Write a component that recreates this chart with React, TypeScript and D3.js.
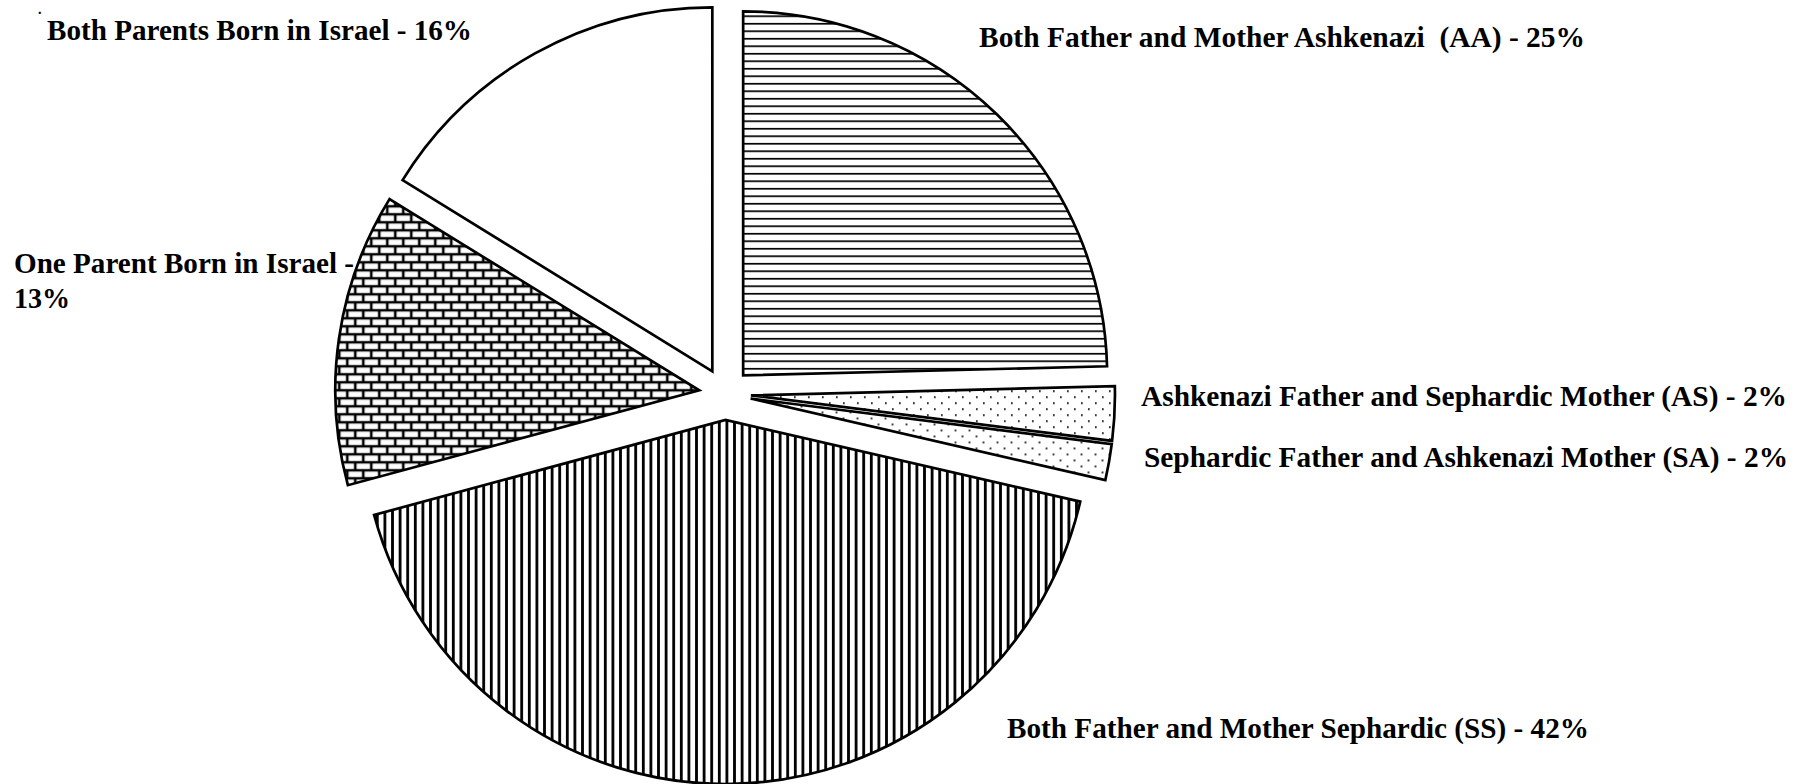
import * as d3 from "d3";

// slice order goes clockwise from 12 o'clock
const categories = [
  "Both Father and Mother Ashkenazi  (AA)",
  "Ashkenazi Father and Sephardic Mother (AS)",
  "Sephardic Father and Ashkenazi Mother (SA)",
  "Both Father and Mother Sephardic (SS)",
  "One Parent Born in Israel",
  "Both Parents Born in Israel",
];
// shares
const shares = [24.6, 2.4, 1.6, 42.2, 13.0, 16.2];
// percentages as printed in the labels
const labelPct = [25, 2, 2, 42, 13, 16];
const fills = ["url(#hlines)", "url(#dots)", "url(#dots)", "url(#vlines)", "url(#bricks)", "#fff"];

const W = 1802;
const H = 784;
const cx = 725;
const cy = 394;
const R = 364;
const explode = 26;

// label anchors (x, baseline, text width) per slice; w2 is for the wrapped second line
const labelPos = [
  { x: 979, y: 47, w: 606 },
  { x: 1141, y: 406, w: 646 },
  { x: 1144, y: 467, w: 644 },
  { x: 1007, y: 738, w: 582 },
  { x: 14, y: 273, w: 340, w2: 56 },
  { x: 47, y: 40, w: 425 },
];

export default function App() {
  const data = categories.map((c, i) => ({ name: c, value: shares[i], pct: labelPct[i] }));
  const pie = d3
    .pie<any>()
    .sort(null)
    .value((d) => d.value)
    .startAngle(0)
    .endAngle(2 * Math.PI);
  const arc = d3.arc<any>().innerRadius(0).outerRadius(R);
  const arcs = pie(data);

  return (
    <svg
      width={W}
      height={H}
      style={{ position: "absolute", left: 0, top: 0, display: "block", background: "#fff" }}
    >
      <defs>
        <pattern id="hlines" patternUnits="userSpaceOnUse" width={8} height={7.5}>
          <rect width={8} height={7.5} fill="#fff" />
          <rect y={0} width={8} height={1.7} fill="#000" />
        </pattern>
        <pattern id="vlines" patternUnits="userSpaceOnUse" width={7.6} height={8}>
          <rect width={7.6} height={8} fill="#fff" />
          <rect x={0} width={2.8} height={8} fill="#000" />
        </pattern>
        <pattern id="bricks" patternUnits="userSpaceOnUse" width={16} height={16}>
          <rect width={16} height={16} fill="#000" />
          <rect x={1.3} y={1.3} width={13.4} height={5.5} fill="#fff" />
          <rect x={9.3} y={9.3} width={13.4} height={5.5} fill="#fff" />
          <rect x={-6.7} y={9.3} width={13.4} height={5.5} fill="#fff" />
        </pattern>
        <pattern id="dots" patternUnits="userSpaceOnUse" width={14} height={12}>
          <rect width={14} height={12} fill="#fff" />
          <rect x={1} y={1} width={1.7} height={1.7} fill="#000" />
          <rect x={8} y={7} width={1.7} height={1.7} fill="#000" />
        </pattern>
      </defs>
      <rect width={W} height={H} fill="#fff" />
      <g transform={`translate(${cx},${cy})`}>
        {arcs.map((a, i) => {
          const mid = (a.startAngle + a.endAngle) / 2;
          const dx = explode * Math.sin(mid);
          const dy = -explode * Math.cos(mid);
          return (
            <path
              key={i}
              d={arc(a) as string}
              transform={`translate(${dx},${dy})`}
              fill={fills[i]}
              stroke="#000"
              strokeWidth={2.7}
              strokeLinejoin="miter"
            />
          );
        })}
      </g>
      <g
        fontFamily="'Liberation Serif', 'Times New Roman', serif"
        fontWeight="bold"
        fontSize={30}
        fill="#000"
      >
        <text x={38} y={14} fontSize={14}>.</text>
        {data.map((d, i) => {
          const p = labelPos[i];
          if (p.w2) {
            return (
              <g key={i}>
                <text x={p.x} y={p.y} textLength={p.w} lengthAdjust="spacingAndGlyphs">
                  {`${d.name} -`}
                </text>
                <text x={p.x} y={p.y + 35} textLength={p.w2} lengthAdjust="spacingAndGlyphs">
                  {`${d.pct}%`}
                </text>
              </g>
            );
          }
          return (
            <text
              key={i}
              x={p.x}
              y={p.y}
              xmlSpace="preserve"
              style={{ whiteSpace: "pre" }}
              textLength={p.w}
              lengthAdjust="spacingAndGlyphs"
            >
              {`${d.name} - ${d.pct}%`}
            </text>
          );
        })}
      </g>
    </svg>
  );
}
